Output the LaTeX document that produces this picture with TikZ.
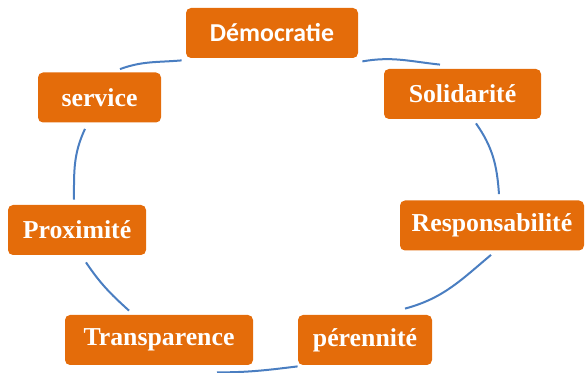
\documentclass[tikz,border=0pt]{standalone}
\usepackage{fontspec}
\setmainfont{Liberation Serif}
\newfontfamily\calibri{Carlito}
\definecolor{valorange}{RGB}{228,108,10}
\definecolor{ringblue}{RGB}{74,126,193}
\tikzstyle{val}=[fill=valorange, rounded corners=2.5pt, minimum height=25pt, inner sep=0pt, text=white, font=\fontsize{12.9}{15}\selectfont\bfseries]
\tikzstyle{ring}=[draw=ringblue, line width=1pt]

\begin{document}
\begin{tikzpicture}[x=0.5pt,y=0.5pt]
  \useasboundingbox (0,0) rectangle (585,-373);
  % the seven values, clockwise from the top
  \node [val, minimum width=86pt, font=\fontsize{12.9}{15}\selectfont\calibri\bfseries] (dem) at (272,-33) {Démocratie};
  \node [val, minimum width=78.5pt] (sol) at (462.5,-94) {Solidarité};
  \node [val, minimum width=92pt] (res) at (492,-225.5) {Responsabilité};
  \node [val, minimum width=67pt] (per) at (365,-340) {pérennité};
  \node [val, minimum width=94pt] (tra) at (159,-340) {Transparence};
  \node [val, minimum width=69pt] (pro) at (77,-230) {Proximité};
  \node [val, minimum width=61.5pt] (ser) at (99.5,-97.5) {service};
  % arcs of the ring between neighbours
  \draw [ring] ([xshift=2pt,yshift=-1.5pt]dem.south east) to[out=10,in=174] ([xshift=-11.25pt,yshift=2pt]sol.north);
  \draw [ring] ([xshift=6.75pt,yshift=-2pt]sol.south) to[out=-55,in=94] ([xshift=3.5pt,yshift=3pt]res.north);
  \draw [ring] ([xshift=-0.5pt,yshift=-2pt]res.south) to[out=220,in=15] ([xshift=20pt,yshift=3pt]per.north);
  \draw [ring] ([yshift=-0.5pt]per.south west) to[out=187,in=0] ([xshift=29pt,yshift=-3.5pt]tra.south);
  \draw [ring] ([xshift=-15pt,yshift=2pt]tra.north) to[out=138,in=304] ([xshift=4.5pt,yshift=-3.5pt]pro.south);
  \draw [ring] ([xshift=-1.5pt,yshift=2.5pt]pro.north) to[out=90,in=245] ([xshift=-7.25pt,yshift=-3pt]ser.south);
  \draw [ring] ([xshift=10.25pt,yshift=1.5pt]ser.north) to[out=20,in=185] ([xshift=-2pt,yshift=-1pt]dem.south west);
\end{tikzpicture}
\end{document}
